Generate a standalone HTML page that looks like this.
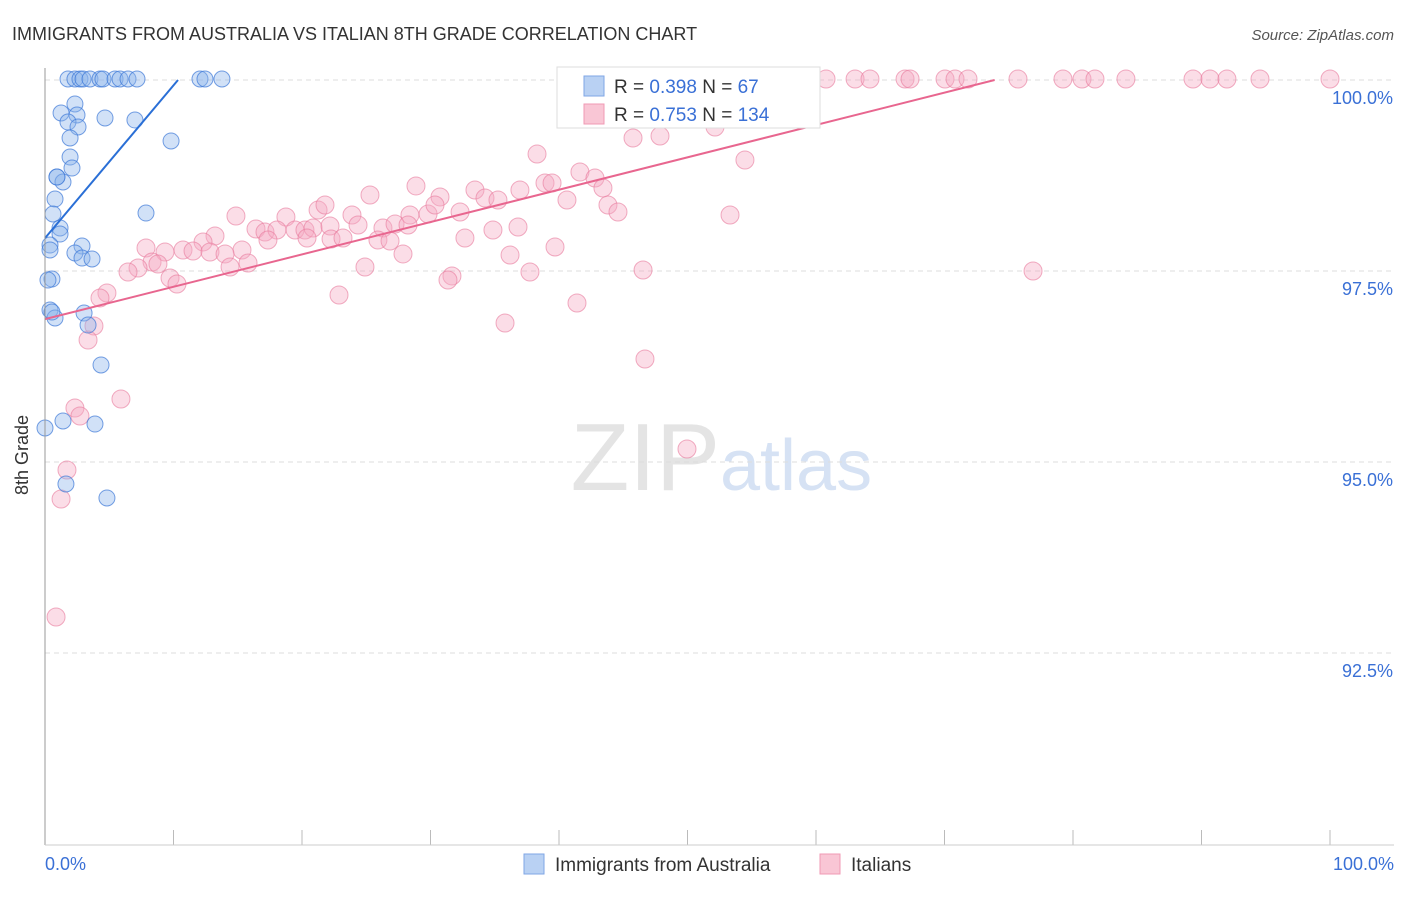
<!DOCTYPE html>
<html><head><meta charset="utf-8"><style>
body{margin:0;background:#fff;font-family:"Liberation Sans",sans-serif}
svg text{font-family:"Liberation Sans",sans-serif}
</style></head><body>
<svg id="c" width="1406" height="892" xmlns="http://www.w3.org/2000/svg">
<text x="12" y="40" font-size="18" fill="#333">IMMIGRANTS FROM AUSTRALIA VS ITALIAN 8TH GRADE CORRELATION CHART</text>
<text x="1394" y="40" font-size="15" fill="#555" font-style="italic" text-anchor="end">Source: ZipAtlas.com</text>
<text x="720" y="490" font-size="96" fill="#e4e4e4" text-anchor="end" font-family="Liberation Serif">ZIP</text>
<text x="720" y="490" font-size="72" fill="#d6e2f4">atlas</text>
<g id="grid"></g><g id="pts"></g><g id="lines"></g>
<line x1="45" y1="68" x2="45" y2="845" stroke="#999"/>
<line x1="45" y1="845" x2="1394" y2="845" stroke="#ccc"/>
<text x="28" y="455" font-size="18" fill="#333" transform="rotate(-90 28 455)" text-anchor="middle">8th Grade</text>
<text x="45" y="870" font-size="18" fill="#3a70d6">0.0%</text>
<text x="1394" y="870" font-size="18" fill="#3a70d6" text-anchor="end">100.0%</text>
<g>
<rect x="557" y="67" width="263" height="61" fill="#fff" stroke="#ddd"/>
<rect x="584" y="76" width="20" height="20" fill="#b9d1f3" stroke="#7fa6e6"/>
<rect x="584" y="104" width="20" height="20" fill="#f9c6d5" stroke="#f09ab4"/>
<text x="614" y="93" font-size="19" fill="#333">R = <tspan fill="#3a70d6">0.398</tspan>   N = <tspan fill="#3a70d6">  67</tspan></text>
<text x="614" y="121" font-size="19" fill="#333">R = <tspan fill="#3a70d6">0.753</tspan>   N = <tspan fill="#3a70d6">134</tspan></text>
</g>
<g>
<rect x="524" y="854" width="20" height="20" fill="#b9d1f3" stroke="#7fa6e6"/>
<text x="555" y="871" font-size="19" fill="#333">Immigrants from Australia</text>
<rect x="820" y="854" width="20" height="20" fill="#f9c6d5" stroke="#f09ab4"/>
<text x="851" y="871" font-size="19" fill="#333">Italians</text>
</g>
</svg>
<script>
const yTicks=[100,97.5,95,92.5];
const yTickLabels=["100.0%","97.5%","95.0%","92.5%"];
const xTicks=[0,10,20,30,40,50,60,70,80,90,100];
const bluePx=[[68,79],[75,79],[80,79],[83,79],[90,79],[100,79],[103,79],[115,79],[120,79],[128,79],[137,79],[200,79],[205,79],[222,79],[61,113],[75,104],[77,115],[105,118],[135,120],[68,122],[78,127],[70,138],[171,141],[70,157],[72,168],[57,177],[63,182],[55,199],[53,214],[146,213],[60,228],[60,234],[50,245],[82,246],[75,253],[82,258],[92,259],[50,250],[52,279],[48,280],[50,310],[55,318],[84,313],[88,325],[101,365],[63,421],[95,424],[45,428],[66,484],[107,498],[57,177],[52,312]];
const pinkPx=[[613,79],[625,79],[640,79],[655,79],[670,79],[690,79],[715,79],[735,79],[750,79],[760,79],[770,79],[780,79],[790,79],[800,79],[826,79],[855,79],[870,79],[905,79],[910,79],[945,79],[955,79],[968,79],[1018,79],[1063,79],[1082,79],[1095,79],[1126,79],[1193,79],[1210,79],[1227,79],[1260,79],[1330,79],[715,127],[633,138],[660,136],[537,154],[745,160],[580,172],[416,186],[595,178],[475,190],[370,195],[440,197],[520,190],[545,183],[552,183],[567,200],[603,188],[485,198],[498,200],[608,205],[618,212],[236,216],[286,217],[318,210],[325,205],[352,215],[410,215],[428,214],[460,212],[730,215],[256,229],[265,232],[277,230],[295,230],[305,230],[313,228],[330,226],[358,225],[383,228],[395,224],[408,225],[435,205],[268,240],[307,238],[331,239],[343,238],[378,240],[390,241],[465,238],[493,230],[518,227],[555,247],[215,236],[203,242],[146,248],[165,252],[183,250],[193,251],[210,252],[242,250],[225,254],[152,262],[158,264],[138,268],[128,272],[248,263],[230,267],[365,267],[403,254],[510,255],[530,272],[643,270],[1033,271],[170,278],[177,284],[452,276],[448,280],[107,293],[100,298],[339,295],[577,303],[505,323],[94,326],[88,340],[645,359],[121,399],[75,408],[80,416],[687,449],[67,470],[61,499],[56,617]];
// convert reading to data values (percent)
const blueX=bluePx.map(p=>+((p[0]-45)/12.85).toFixed(2));
const blueY=bluePx.map(p=>+(100-(p[1]-80)/76.4).toFixed(3));
const pinkX=pinkPx.map(p=>+((p[0]-45)/12.85).toFixed(2));
const pinkY=pinkPx.map(p=>+(100-(p[1]-80)/76.4).toFixed(3));
const blueTrend=[[0,97.93],[10.35,100]];
const pinkTrend=[[0,96.87],[73.9,100]];
function sx(v){return 45+v*12.85;}
function sy(v){return 80+(100-v)*76.4;}
const NS="http://www.w3.org/2000/svg";
function mk(t,a,parent){const e=document.createElementNS(NS,t);for(const k in a)e.setAttribute(k,a[k]);parent.appendChild(e);return e;}
const grid=document.getElementById('grid');
yTicks.forEach((v,i)=>{
 const l=mk('line',{x1:45,x2:1394,y1:sy(v),y2:sy(v),stroke:'#ddd','stroke-dasharray':'5,4'},grid);
 
 
 const t=mk('text',{x:1393,y:sy(v)+24,'font-size':18,fill:'#3a70d6','text-anchor':'end'},grid);
 t.textContent=yTickLabels[i];
 
 
});
xTicks.forEach(v=>{
 const l=mk('line',{x1:sx(v),x2:sx(v),y1:830,y2:845,stroke:'#bbb'},grid);
 
 
});
const pts=document.getElementById('pts');
pinkX.forEach((x,i)=>{
 const c=mk('circle',{cx:sx(x),cy:sy(pinkY[i]),r:9,fill:'rgba(246,170,195,0.4)',stroke:'rgba(232,120,155,0.6)','stroke-width':1},pts);
 
 
});
blueX.forEach((x,i)=>{
 const c=mk('circle',{cx:sx(x),cy:sy(blueY[i]),r:8,fill:'rgba(140,180,235,0.4)',stroke:'rgba(60,120,215,0.7)','stroke-width':1},pts);
 
 
});
const lines=document.getElementById('lines');
const bl=mk('line',{x1:sx(blueTrend[0][0]),y1:sy(blueTrend[0][1]),x2:sx(blueTrend[1][0]),y2:sy(blueTrend[1][1]),stroke:'#2a6fd6','stroke-width':2},lines);


const pl=mk('line',{x1:sx(pinkTrend[0][0]),y1:sy(pinkTrend[0][1]),x2:sx(pinkTrend[1][0]),y2:sy(pinkTrend[1][1]),stroke:'#e8668f','stroke-width':2},lines);


</script>
</body></html>
